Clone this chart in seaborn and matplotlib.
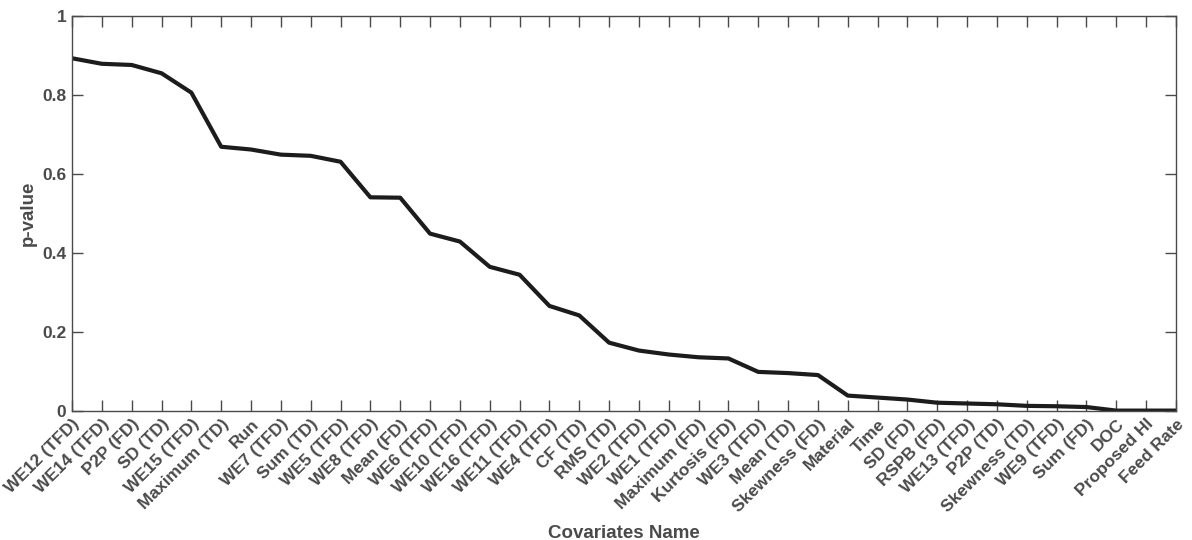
import matplotlib
matplotlib.use("Agg")
import matplotlib.pyplot as plt
import matplotlib.transforms as mtransforms
import seaborn as sns
import pandas as pd

covariates = ["WE12 (TFD)", "WE14 (TFD)", "P2P (FD)", "SD (TD)", "WE15 (TFD)", "Maximum (TD)",
              "Run", "WE7 (TFD)", "Sum (TD)", "WE5 (TFD)", "WE8 (TFD)", "Mean (FD)",
              "WE6 (TFD)", "WE10 (TFD)", "WE16 (TFD)", "WE11 (TFD)", "WE4 (TFD)", "CF (TD)",
              "RMS (TD)", "WE2 (TFD)", "WE1 (TFD)", "Maximum (FD)", "Kurtosis (FD)", "WE3 (TFD)",
              "Mean (TD)", "Skewness (FD)", "Material", "Time", "SD (FD)", "RSPB (FD)",
              "WE13 (TFD)", "P2P (TD)", "Skewness (TD)", "WE9 (TFD)", "Sum (FD)", "DOC",
              "Proposed HI", "Feed Rate"]
p_values = [0.893, 0.879, 0.876, 0.855, 0.806, 0.669,
            0.662, 0.649, 0.646, 0.631, 0.541, 0.540,
            0.449, 0.429, 0.365, 0.345, 0.266, 0.242,
            0.173, 0.153, 0.143, 0.136, 0.133, 0.099,
            0.096, 0.091, 0.039, 0.034, 0.029, 0.021,
            0.019, 0.017, 0.013, 0.012, 0.010, 0.001,
            0.001, 0.001]

df = pd.DataFrame({"idx": range(len(covariates)), "p": p_values})

sns.set_style("white")
plt.rcParams['font.family'] = ['Liberation Sans', 'DejaVu Sans']
txt = "#4a4a4a"

fig = plt.figure(figsize=(11.92, 5.4), dpi=100)
ax = fig.add_axes([72/1192, 1-411/540, (1176-72)/1192, (411-16)/540])
sns.lineplot(data=df, x="idx", y="p", ax=ax, color="#1c1c1c", linewidth=3.0)

ax.set_xlim(0, len(covariates)-1)
ax.set_ylim(0, 1)
ax.set_xticks(range(len(covariates)))
ax.set_xticklabels(covariates, rotation=45, ha="right", va="top", rotation_mode="anchor",
                   fontsize=12.5, fontweight="bold", color=txt)
offset = mtransforms.ScaledTranslation(4/100, -3/100, fig.dpi_scale_trans)
for lab in ax.get_xticklabels():
    lab.set_transform(lab.get_transform() + offset)
ax.set_yticks([0, 0.2, 0.4, 0.6, 0.8, 1])
ax.set_yticklabels(["0", "0.2", "0.4", "0.6", "0.8", "1"], fontsize=12.5, fontweight="bold", color=txt)
ax.tick_params(direction="in", length=8, width=1.0, color=txt, top=True, right=True, bottom=True, left=True,
               pad=4)
for s in ax.spines.values():
    s.set_visible(True)
    s.set_color(txt)
    s.set_linewidth(1.0)
ax.set_xlabel("Covariates Name", fontsize=13.5, fontweight="bold", color=txt)
ax.xaxis.set_label_coords(0.5, (411-525)/395)
ax.set_ylabel("p-value", fontsize=13.5, fontweight="bold", color=txt, labelpad=4)
ax.grid(False)

fig.savefig("out.png", dpi=100)
